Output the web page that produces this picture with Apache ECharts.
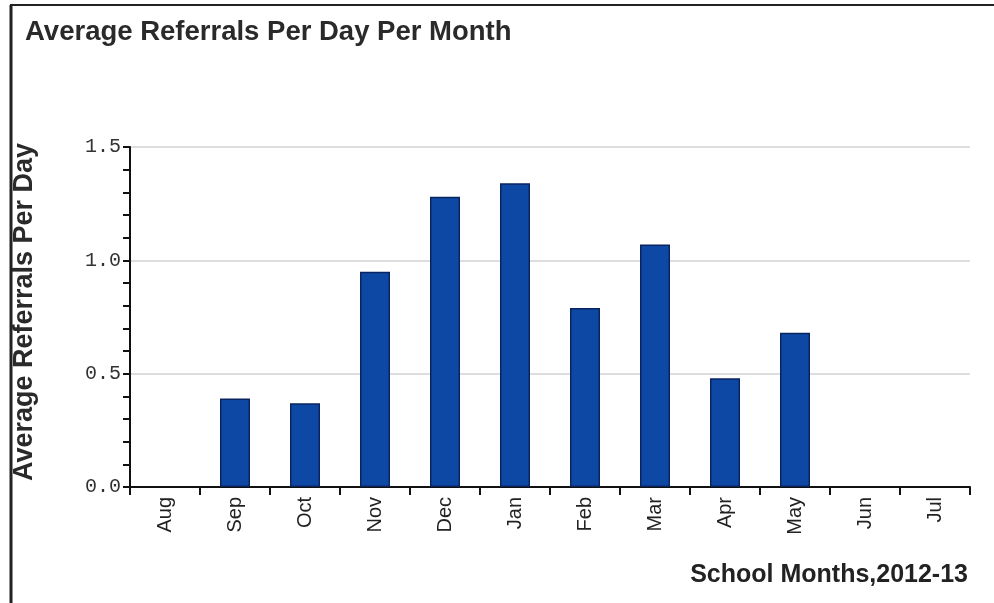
<!DOCTYPE html>
<html>
<head>
<meta charset="utf-8">
<script src="https://cdn.jsdelivr.net/npm/echarts@6/dist/echarts.min.js"></script>
<style>
html,body{margin:0;padding:0;background:#fff;}
#chart{width:994px;height:603px;}
</style>
</head>
<body>
<div id="chart"></div>
<script>
const titleText = 'Average Referrals Per Day Per Month';
const yAxisTitle = 'Average Referrals Per Day';
const xAxisTitle = 'School Months,2012-13';
const months = ['Aug','Sep','Oct','Nov','Dec','Jan','Feb','Mar','Apr','May','Jun','Jul'];
const referrals = [0, 0.39, 0.37, 0.95, 1.28, 1.34, 0.79, 1.07, 0.48, 0.68, 0, 0];
const yTicks = [0, 0.5, 1.0, 1.5];

const chart = echarts.init(document.getElementById('chart'));
chart.setOption({
  backgroundColor: '#ffffff',
  animation: false,
  title: {
    text: titleText,
    left: 20, top: 13,
    textStyle: {fontFamily: 'Liberation Sans, Arial, sans-serif', fontWeight: 'bold', fontSize: 27.5, color: '#2a2a2a'}
  },
  grid: {left: 130, right: 24, top: 147, bottom: 116},
  xAxis: {
    type: 'category',
    data: months,
    boundaryGap: true,
    axisLine: {lineStyle: {color: '#111', width: 2}},
    axisTick: {show: true, length: 8, lineStyle: {color: '#111', width: 2}},
    axisLabel: {rotate: 90, margin: 10, fontFamily: 'Liberation Sans, Arial, sans-serif', fontSize: 20, color: '#222', interval: 0},
    splitLine: {show: false}
  },
  yAxis: {
    type: 'value',
    min: yTicks[0], max: yTicks[yTicks.length - 1], interval: 0.5,
    axisLine: {show: true, lineStyle: {color: '#111', width: 2}},
    axisTick: {show: true, length: 7, lineStyle: {color: '#111', width: 2}},
    minorTick: {show: true, splitNumber: 5, length: 7, lineStyle: {color: '#111', width: 2}},
    axisLabel: {margin: 9, fontFamily: 'Liberation Mono, Courier New, monospace', fontSize: 20, color: '#333',
      formatter: v => v.toFixed(1)},
    splitLine: {show: true, lineStyle: {color: '#dddddd', width: 2}}
  },
  series: [{
    type: 'bar',
    data: referrals.map(v => v === 0 ? {value: v, itemStyle: {borderWidth: 0}} : v),
    barWidth: 30,
    itemStyle: {color: '#0d48a5', borderColor: '#0a2460', borderWidth: 1.5}
  }],
  graphic: [
    {type: 'line', shape: {x1: 11, y1: 5, x2: 11, y2: 603}, style: {stroke: '#222', lineWidth: 3}},
    {type: 'line', shape: {x1: 10, y1: 5, x2: 994, y2: 5}, style: {stroke: '#222', lineWidth: 2}},
    {type: 'text', x: 25, y: 312, rotation: Math.PI / 2,
      style: {text: yAxisTitle, fontFamily: 'Liberation Sans, Arial, sans-serif', fontWeight: 'bold', fontSize: 27,
        fill: '#2a2a2a', textAlign: 'center', textVerticalAlign: 'middle'}},
    {type: 'text', x: 968, y: 575,
      style: {text: xAxisTitle, fontFamily: 'Liberation Sans, Arial, sans-serif', fontWeight: 'bold', fontSize: 25,
        fill: '#222', textAlign: 'right', textVerticalAlign: 'middle'}}
  ]
});
</script>
</body>
</html>
